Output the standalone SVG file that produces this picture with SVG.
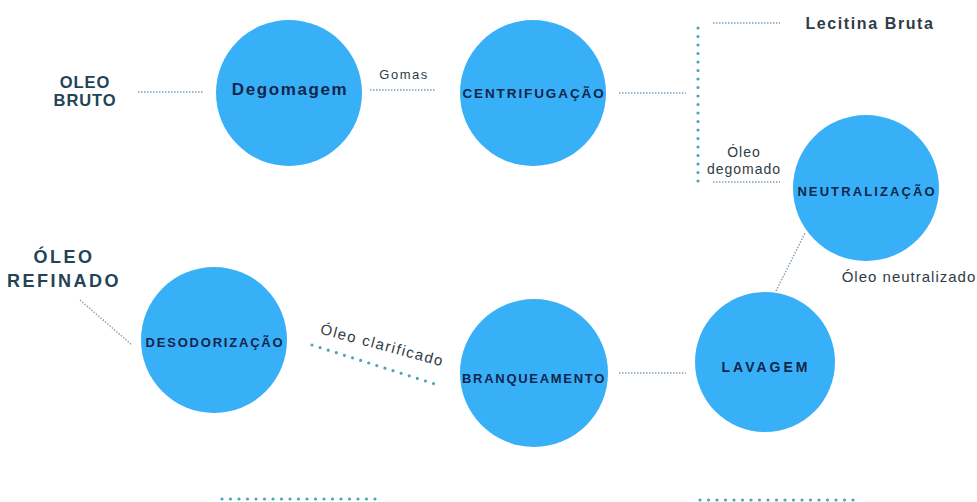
<svg xmlns="http://www.w3.org/2000/svg" width="977" height="502" viewBox="0 0 977 502">
<style>
.node{fill:#38b0f7}
.nt{font-family:"Liberation Sans",Arial,sans-serif;font-weight:bold;fill:#13254a;text-anchor:middle}
.lbl{font-family:"Liberation Sans",Arial,sans-serif;fill:#2e3c47;font-weight:bold}
.reg{font-weight:normal}
.head{fill:#234356;text-anchor:middle}
.thin{stroke:#7f9fb8;stroke-width:1.4;stroke-dasharray:1.5 1.5;fill:none}
.thick{stroke:#4fa3bf;stroke-width:3.2;stroke-linecap:round;stroke-dasharray:0 8.5;fill:none}
</style>
<rect width="977" height="502" fill="#ffffff"/>
<g id="connectors">
<line class="thin" x1="138" y1="92" x2="204" y2="92"/>
<line class="thin" x1="370" y1="90" x2="436" y2="90"/>
<line class="thin" x1="619" y1="93" x2="686" y2="93"/>
<line class="thick" x1="698" y1="28" x2="698" y2="182"/>
<line class="thin" x1="713" y1="23" x2="780" y2="23"/>
<line class="thin" x1="713" y1="182" x2="780" y2="182"/>
<line class="thin" x1="776" y1="291" x2="805" y2="233"/>
<line class="thin" x1="619" y1="373" x2="686" y2="373"/>
<line class="thick" x1="312" y1="345" x2="438" y2="385"/>
<line class="thin" x1="80" y1="300" x2="132" y2="345"/>
<line class="thick" x1="222" y1="499" x2="378" y2="499"/>
<line class="thick" x1="700" y1="500" x2="856" y2="500"/>
</g>
<g id="oleo-bruto">
<text class="lbl head" x="85" y="88" font-size="16.5" letter-spacing="0.9">OLEO</text>
<text class="lbl head" x="85" y="106" font-size="16.5" letter-spacing="0.9">BRUTO</text>
</g>
<g id="degomagem">
<circle class="node" cx="289" cy="93" r="73"/>
<text class="nt" x="290" y="95" font-size="17" letter-spacing="1.6">Degomagem</text>
</g>
<g id="gomas"><text class="lbl reg" x="404" y="79" font-size="13" text-anchor="middle" letter-spacing="1.5">Gomas</text></g>
<g id="centrifugacao">
<circle class="node" cx="533" cy="93" r="73"/>
<text class="nt" x="534" y="98" font-size="13.5" letter-spacing="1.9">CENTRIFUGAÇÃO</text>
</g>
<g id="lecitina">
<text class="lbl" x="870" y="29" font-size="16" text-anchor="middle" letter-spacing="1.6">Lecitina Bruta</text>
</g>
<g id="oleo-degomado">
<text class="lbl reg" x="744" y="157" font-size="14" text-anchor="middle" letter-spacing="1">Óleo</text>
<text class="lbl reg" x="744" y="174" font-size="14" text-anchor="middle" letter-spacing="1">degomado</text>
</g>
<g id="neutralizacao">
<circle class="node" cx="866" cy="188" r="73"/>
<text class="nt" x="867" y="196" font-size="13" letter-spacing="2.1">NEUTRALIZAÇÃO</text>
</g>
<g id="oleo-neutralizado">
<text class="lbl reg" x="909" y="282" font-size="15" text-anchor="middle" letter-spacing="1">Óleo neutralizado</text>
</g>
<g id="lavagem">
<circle class="node" cx="765" cy="362" r="70"/>
<text class="nt" x="766" y="372" font-size="14" letter-spacing="3">LAVAGEM</text>
</g>
<g id="branqueamento">
<circle class="node" cx="534" cy="373" r="74"/>
<text class="nt" x="534" y="383" font-size="13" letter-spacing="1.7">BRANQUEAMENTO</text>
</g>
<g id="oleo-clarificado">
<text class="lbl reg" x="381" y="350" font-size="15" text-anchor="middle" letter-spacing="1.5" transform="rotate(15 381 350)">Óleo clarificado</text>
</g>
<g id="desodorizacao">
<circle class="node" cx="214" cy="340" r="73"/>
<text class="nt" x="215" y="347" font-size="13" letter-spacing="1.8">DESODORIZAÇÃO</text>
</g>
<g id="oleo-refinado">
<text class="lbl head" x="64" y="263" font-size="18" letter-spacing="2.5">ÓLEO</text>
<text class="lbl head" x="64" y="287" font-size="18" letter-spacing="2.5">REFINADO</text>
</g>
</svg>
